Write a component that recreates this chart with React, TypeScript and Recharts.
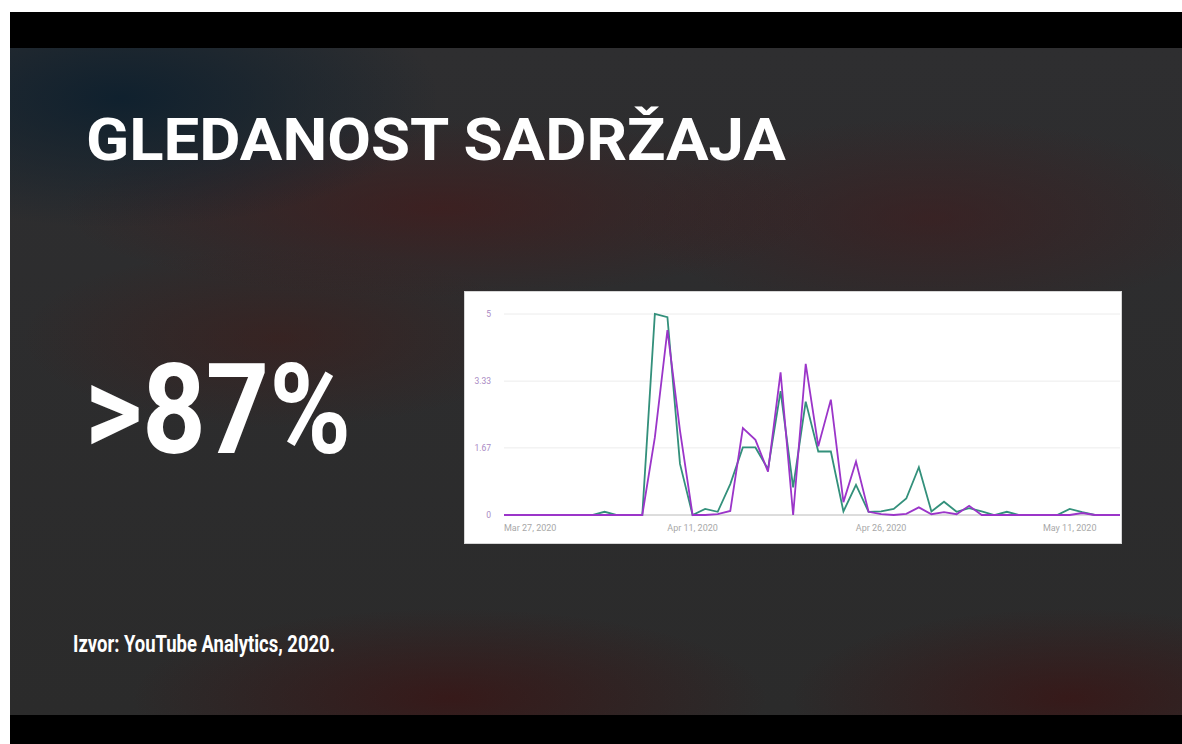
import React from 'react';
import { LineChart, Line, XAxis, YAxis, CartesianGrid, ReferenceLine } from 'recharts';

// daily dates, Mar 27 2020 .. May 15 2020
const dates = [
  'Mar 27, 2020', 'Mar 28, 2020', 'Mar 29, 2020', 'Mar 30, 2020', 'Mar 31, 2020',
  'Apr 1, 2020', 'Apr 2, 2020', 'Apr 3, 2020', 'Apr 4, 2020', 'Apr 5, 2020',
  'Apr 6, 2020', 'Apr 7, 2020', 'Apr 8, 2020', 'Apr 9, 2020', 'Apr 10, 2020',
  'Apr 11, 2020', 'Apr 12, 2020', 'Apr 13, 2020', 'Apr 14, 2020', 'Apr 15, 2020',
  'Apr 16, 2020', 'Apr 17, 2020', 'Apr 18, 2020', 'Apr 19, 2020', 'Apr 20, 2020',
  'Apr 21, 2020', 'Apr 22, 2020', 'Apr 23, 2020', 'Apr 24, 2020', 'Apr 25, 2020',
  'Apr 26, 2020', 'Apr 27, 2020', 'Apr 28, 2020', 'Apr 29, 2020', 'Apr 30, 2020',
  'May 1, 2020', 'May 2, 2020', 'May 3, 2020', 'May 4, 2020', 'May 5, 2020',
  'May 6, 2020', 'May 7, 2020', 'May 8, 2020', 'May 9, 2020', 'May 10, 2020',
  'May 11, 2020', 'May 12, 2020', 'May 13, 2020', 'May 14, 2020', 'May 15, 2020',
];

const greenSeries = [
  0, 0, 0, 0, 0, 0, 0, 0, 0.08, 0,
  0, 0, 5.0, 4.92, 1.27, 0, 0.15, 0.08, 0.77, 1.68,
  1.68, 1.14, 3.08, 0.69, 2.82, 1.58, 1.58, 0.09, 0.75, 0.08,
  0.09, 0.15, 0.41, 1.19, 0.09, 0.33, 0.08, 0.17, 0.09, 0,
  0.08, 0, 0, 0, 0, 0.15, 0.07, 0, 0, 0,
];

const purpleSeries = [
  0, 0, 0, 0, 0, 0, 0, 0, 0, 0,
  0, 0, 1.93, 4.6, 2.1, 0, 0, 0.02, 0.1, 2.16,
  1.87, 1.08, 3.55, 0, 3.76, 1.71, 2.87, 0.32, 1.33, 0.08,
  0.02, 0, 0.03, 0.19, 0.02, 0.07, 0.02, 0.23, 0, 0,
  0, 0, 0, 0, 0, 0, 0.05, 0, 0, 0,
];

const xTicks = ['Mar 27, 2020', 'Apr 11, 2020', 'Apr 26, 2020', 'May 11, 2020'];
const yTicks = [0, 1.67, 3.33, 5];

const data = dates.map((d, i) => ({ date: d, green: greenSeries[i], purple: purpleSeries[i] }));

const DateTick = (props: any) => {
  const { x, y, payload, index } = props;
  return (
    <text
      x={x}
      y={y}
      dy="0.71em"
      textAnchor={index === 0 ? 'start' : 'middle'}
      fill="#a8a8a8"
      fontSize={9}
      fontFamily="Roboto, sans-serif"
    >
      {payload.value}
    </text>
  );
};

const background = [
  'radial-gradient(ellipse 320px 130px at 110px 50px, rgba(14,32,46,0.95), rgba(14,32,46,0))',
  'radial-gradient(ellipse 380px 90px at 430px 160px, rgba(75,20,20,0.5), rgba(75,20,20,0))',
  'radial-gradient(ellipse 300px 100px at 920px 170px, rgba(70,22,24,0.45), rgba(70,22,24,0))',
  'radial-gradient(ellipse 260px 90px at 270px 290px, rgba(70,22,18,0.4), rgba(70,22,18,0))',
  'radial-gradient(ellipse 320px 90px at 440px 650px, rgba(62,14,14,0.6), rgba(62,14,14,0))',
  'radial-gradient(ellipse 280px 90px at 1060px 650px, rgba(62,14,14,0.6), rgba(62,14,14,0))',
  'linear-gradient(#2e2e30, #2b2b2b)',
].join(', ');

export default function App() {
  return (
    <div style={{ position: 'fixed', left: 10, top: 12, width: 1172, height: 732, background: '#000', overflow: 'hidden' }}>
      <div style={{ position: 'absolute', left: 0, top: 36, width: 1172, height: 667, background }} />
      <svg
        width={1172}
        height={732}
        style={{ position: 'absolute', left: 0, top: 0 }}
        fontFamily="Roboto, sans-serif"
        fontWeight={700}
        fill="#ffffff"
      >
        <text x={76} y={148} fontSize={60} textLength={700} lengthAdjust="spacingAndGlyphs">
          GLEDANOST SADRŽAJA
        </text>
        <text x={75} y={441} fontSize={127} textLength={266} lengthAdjust="spacingAndGlyphs">
          &gt;87%
        </text>
        <text x={63} y={640} fontSize={23} textLength={262} lengthAdjust="spacingAndGlyphs">
          Izvor: YouTube Analytics, 2020.
        </text>
      </svg>
      <div
        style={{
          position: 'absolute',
          left: 454,
          top: 279,
          width: 658,
          height: 253,
          boxSizing: 'border-box',
          background: '#fff',
          border: '1px solid #d6d6d6',
        }}
      >
        <LineChart width={656} height={251} data={data} margin={{ top: 22, right: 1, bottom: 0, left: 0 }}>
          <CartesianGrid vertical={false} stroke="#ececec" strokeWidth={1} />
          <XAxis
            dataKey="date"
            ticks={xTicks}
            interval={0}
            axisLine={false}
            tickLine={false}
            tickMargin={4}
            height={28}
            tick={<DateTick />}
          />
          <YAxis
            domain={[0, 5]}
            ticks={yTicks}
            width={39}
            axisLine={false}
            tickLine={false}
            tickMargin={7}
            tick={{ fill: '#a98ac4', fontSize: 8.5, fontFamily: 'Roboto, sans-serif' }}
          />
          <ReferenceLine y={0} stroke="#c4c4c4" strokeWidth={1} />
          <Line
            type="linear"
            dataKey="green"
            stroke="#33907b"
            strokeWidth={1.8}
            dot={false}
            isAnimationActive={false}
          />
          <Line
            type="linear"
            dataKey="purple"
            stroke="#9b35c9"
            strokeWidth={1.8}
            dot={false}
            isAnimationActive={false}
          />
        </LineChart>
      </div>
    </div>
  );
}
